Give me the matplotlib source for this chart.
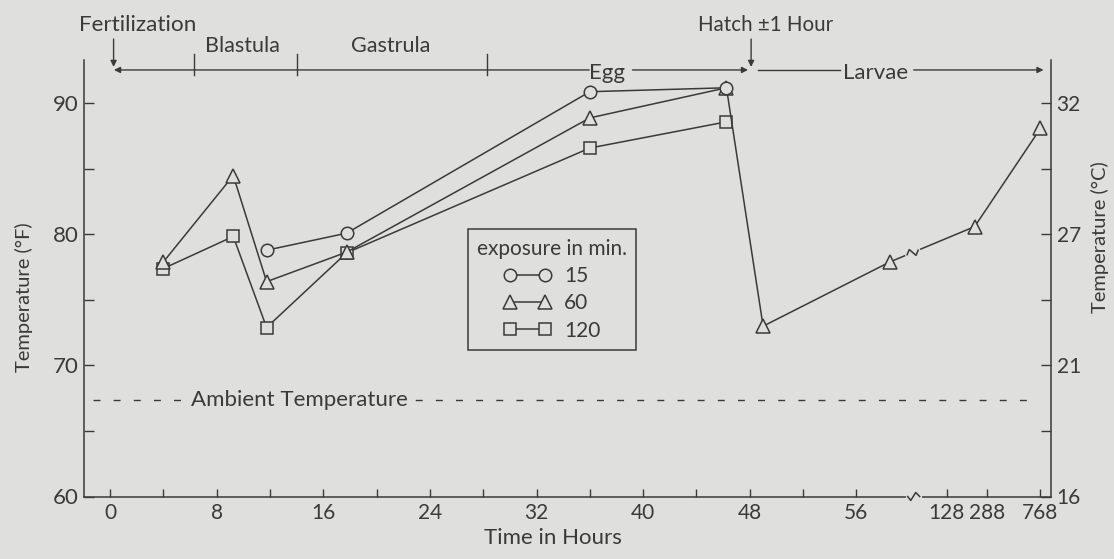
import numpy as np
import matplotlib
matplotlib.use('Agg')
import matplotlib.pyplot as plt
from matplotlib.lines import Line2D
from matplotlib import transforms as mtrans

plt.rcParams['font.family'] = ['Lato', 'DejaVu Sans']

# data (hours after fertilization, temperature in F)
hours_15 = [11.75, 17.75, 36, 46.25]
temp_15 = [78.8, 80.1, 90.9, 91.2]
hours_60 = [4, 9.25, 11.75, 17.75, 36, 46.25, 49, 58.5, 240, 768]
temp_60 = [77.9, 84.5, 76.4, 78.65, 88.9, 91.2, 73.0, 77.9, 80.6, 88.1]
hours_120 = [4, 9.25, 11.75, 17.75, 36, 46.25]
temp_120 = [77.4, 79.85, 72.9, 78.6, 86.6, 88.6]
ambient = 67.4

x_major = [0, 8, 16, 24, 32, 40, 48, 56, 128, 288, 768]
x_labels = ['0', '8', '16', '24', '32', '40', '48', '56', '128', '288', '768']
x_minor = [4, 12, 20, 28, 36, 44, 52]
f_ticks = [60, 70, 80, 90]
c_labels = ['16', '21', '27', '32']

# broken time axis: linear up to 60 h, compressed afterwards
brk_hours = [60, 128, 288, 768, 2000]
brk_pos = [60, 62.77, 65.77, 69.81, 72.0]


def fwd(h):
    h = np.asarray(h, dtype=float)
    return np.where(h <= 60, h, np.interp(h, brk_hours, brk_pos))


def inv(x):
    x = np.asarray(x, dtype=float)
    return np.where(x <= 60, x, np.interp(x, brk_pos, brk_hours))


bg = '#dfdfdd'
ink = '#3a3a3a'
W, H = 1114, 559

fig = plt.figure(figsize=(W / 100, H / 100), dpi=100, facecolor=bg)
ax = fig.add_axes([84 / W, 1 - 496.5 / H, (1051 - 84) / W, (496.5 - 60) / H])
ax.set_facecolor(bg)
ax.set_xscale('function', functions=(fwd, inv))
ax.set_xlim(-1.95, 1212)
ax.set_ylim(60, 93.32)

mk = dict(color=ink, lw=1.1, markerfacecolor=bg, markeredgecolor=ink, markeredgewidth=1.1)
ax.plot(hours_120, temp_120, marker='s', markersize=9, zorder=3, **mk)
ax.plot(hours_60, temp_60, marker='^', markersize=10, zorder=4, **mk)
ax.plot(hours_15, temp_15, marker='o', markersize=9, zorder=5, **mk)

# ambient temperature
ax.axhline(ambient, xmin=0.009, xmax=0.983, color=ink, lw=1.0, dashes=(5, 9.5))
ax.text(14.2, ambient, 'Ambient Temperature', ha='center', va='center', fontsize=16, color=ink,
        bbox=dict(facecolor=bg, edgecolor='none', pad=1.0))

# axes styling
for s in ['top', 'right']:
    ax.spines[s].set_visible(False)
for s in ['left', 'bottom']:
    ax.spines[s].set_linewidth(1.1)
    ax.spines[s].set_color(ink)
ax.set_xticks(x_major, labels=x_labels)
ax.set_xticks(x_minor, minor=True)
ax.set_yticks(f_ticks)
ax.set_yticks([65, 75, 85], minor=True)
ax.tick_params(axis='x', which='both', direction='in', length=6, width=1, colors=ink, labelsize=15, pad=5)
ax.tick_params(axis='y', which='both', direction='in', length=7, width=1, colors=ink, labelsize=16, pad=4)

ax2 = ax.twinx()
ax2.set_ylim(ax.get_ylim())
for s in ['top', 'left', 'bottom']:
    ax2.spines[s].set_visible(False)
ax2.spines['right'].set_linewidth(1.1)
ax2.spines['right'].set_color(ink)
ax2.set_yticks(f_ticks, labels=c_labels)
ax2.set_yticks([65, 75, 85], minor=True)
ax2.tick_params(axis='y', which='both', direction='in', length=7, width=1, colors=ink, labelsize=15, pad=4)

fig.text(24 / W, 1 - 297 / H, 'Temperature (°F)', rotation=90, ha='center', va='center', fontsize=14.5, color=ink)
fig.text(1100 / W, 1 - 237 / H, 'Temperature (°C)', rotation=90, ha='center', va='center', fontsize=14.5, color=ink)
fig.text(553 / W, 1 - 538 / H, 'Time in Hours', ha='center', va='center', fontsize=16, color=ink)

# developmental stages along the top
y_line = 92.56
arr = dict(arrowstyle='-|>', color=ink, lw=1, shrinkA=0, shrinkB=0, mutation_scale=9)
ax.annotate('', xy=(0.3, y_line), xytext=(35.95, y_line), arrowprops=arr, annotation_clip=False)
ax.text(37.3, 91.9, 'Egg', ha='center', va='baseline', fontsize=16, color=ink)
ax.annotate('', xy=(47.87, y_line), xytext=(39.2, y_line), arrowprops=arr, annotation_clip=False)
for b in [6.34, 14.0, 28.3]:
    ax.plot([b, b], [92.18, 93.81], color=ink, lw=1, clip_on=False)
ax.text(9.96, 94.39, 'Blastula', ha='center', va='center', fontsize=15.5, color=ink)
ax.text(21.05, 94.39, 'Gastrula', ha='center', va='center', fontsize=15.5, color=ink)
ax.text(2.06, 95.99, 'Fertilization', ha='center', va='center', fontsize=16.2, color=ink)
ax.annotate('', xy=(0.27, 92.79), xytext=(0.27, 94.92), arrowprops=arr, annotation_clip=False)
ax.text(49.2, 95.99, 'Hatch \u00b11 Hour', ha='center', va='center', fontsize=14.8, color=ink)
ax.annotate('', xy=(48.1, 92.79), xytext=(48.1, 94.92), arrowprops=arr, annotation_clip=False)

bt = mtrans.blended_transform_factory(ax.transAxes, ax.transData)
ax.plot([0.697, 0.782], [y_line, y_line], color=ink, lw=1, transform=bt, clip_on=False)
ax.text(0.819, 91.9, 'Larvae', ha='center', va='baseline', fontsize=16, color=ink, transform=bt)
ax.annotate('', xy=(0.9923, y_line), xytext=(0.858, y_line), xycoords=bt, textcoords=bt,
            arrowprops=arr, annotation_clip=False)

# break marks (drawn in pixels)
ident = mtrans.IdentityTransform()
x0, y0 = ax.transAxes.transform((0.858, 0))
fig.add_artist(Line2D([x0 - 6, x0 + 6], [y0, y0], color=bg, lw=3, transform=ident))
fig.add_artist(Line2D([x0 - 6, x0 - 3, x0 + 2, x0 + 6], [y0, y0 - 4, y0 + 4, y0],
                      color=ink, lw=1.1, transform=ident))

p1 = ax.transData.transform((hours_60[7], temp_60[7]))
p2 = ax.transData.transform((hours_60[8], temp_60[8]))
d = p2 - p1
u = d / np.hypot(*d)
nrm = np.array([-u[1], u[0]])
c = p1 + 0.27 * d
fig.add_artist(Line2D([c[0] - 6 * u[0], c[0] + 6 * u[0]], [c[1] - 6 * u[1], c[1] + 6 * u[1]],
                      color=bg, lw=3, transform=ident))
zz = [c - 6 * u, c - 2 * u + 4 * nrm, c + 2 * u - 4 * nrm, c + 6 * u]
fig.add_artist(Line2D([p[0] for p in zz], [p[1] for p in zz], color=ink, lw=1.1, transform=ident))

# legend
handles = [Line2D([], [], marker='o', markersize=9, **mk),
           Line2D([], [], marker='^', markersize=10, **mk),
           Line2D([], [], marker='s', markersize=9, **mk)]
leg = ax.legend(handles, ['15', '60', '120'], title='exposure in min.', loc='upper left',
                bbox_to_anchor=(467.7 / W, 1 - 229.3 / H), bbox_transform=fig.transFigure,
                numpoints=2, handlelength=2.3, frameon=True, fancybox=False, edgecolor=ink,
                facecolor=bg, framealpha=1, fontsize=15, title_fontsize=15, borderpad=0.45,
                labelspacing=0.35, handletextpad=0.6, borderaxespad=0)
leg.get_frame().set_linewidth(1.1)
for t in leg.get_texts():
    t.set_color(ink)
leg.get_title().set_color(ink)

fig.savefig('out.png', dpi=100, facecolor=bg)
